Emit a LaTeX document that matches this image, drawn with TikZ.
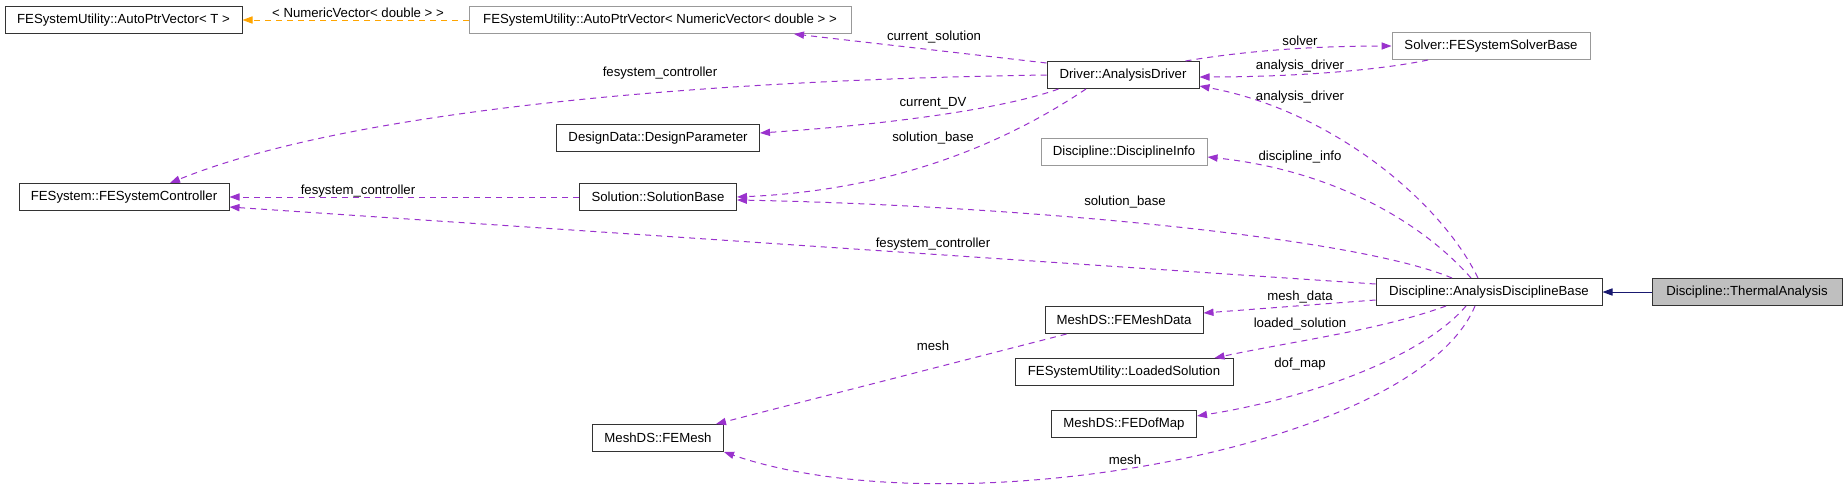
\documentclass[tikz,border=0pt]{standalone}
\usepackage{fontspec}
\setmainfont{Liberation Sans}
\usetikzlibrary{arrows.meta}
\definecolor{edgepurple}{HTML}{9A32CD}
\definecolor{edgeorange}{HTML}{FFA500}
\definecolor{inhnavy}{HTML}{191970}
\definecolor{nodegray}{HTML}{BFBFBF}
\begin{document}
\begin{tikzpicture}[x=0.5pt,y=-0.5pt,
  cls/.style={draw=black!80, line width=0.5pt, fill=white, rectangle, minimum height=13.5pt, inner sep=0pt, font=\fontsize{6.6}{8}\selectfont, text=black},
  ucls/.style={cls, draw=black!40},
  rel/.style={draw=edgepurple, line width=0.5pt, dash pattern=on 3pt off 2.5pt, -{Triangle[length=5pt,width=3.6pt]}},
  tmpl/.style={rel, draw=edgeorange},
  inh/.style={draw=inhnavy, line width=0.5pt, -{Triangle[length=5pt,width=3.6pt]}},
  lbl/.style={font=\fontsize{6.6}{8}\selectfont, inner sep=0pt, text=black}]
\useasboundingbox[fill=white] (0,0) rectangle (1843,494);

% nodes
\node[cls,  minimum width=118.5pt] (apt) at (123.5,20) {FESystemUtility::AutoPtrVector< T >};
\node[ucls, minimum width=191pt]   (apn) at (660,20) {FESystemUtility::AutoPtrVector< NumericVector< double > >};
\node[cls,  minimum width=76pt]    (drv) at (1123,75) {Driver::AnalysisDriver};
\node[ucls, minimum width=99pt]    (slv) at (1491,46) {Solver::FESystemSolverBase};
\node[cls,  minimum width=105pt]   (fsc) at (124,197) {FESystem::FESystemController};
\node[cls,  minimum width=101.5pt] (dp)  at (658,138) {DesignData::DesignParameter};
\node[cls,  minimum width=78.5pt]  (sb)  at (658,197) {Solution::SolutionBase};
\node[ucls, minimum width=83pt]    (di)  at (1124,152) {Discipline::DisciplineInfo};
\node[cls,  minimum width=113pt]   (adb) at (1489,292) {Discipline::AnalysisDisciplineBase};
\node[cls,  minimum width=95pt, fill=nodegray] (th) at (1747,292) {Discipline::ThermalAnalysis};
\node[cls,  minimum width=79pt]    (fmd) at (1124,320) {MeshDS::FEMeshData};
\node[cls,  minimum width=109pt]   (ls)  at (1124,372) {FESystemUtility::LoadedSolution};
\node[cls,  minimum width=72.5pt]  (fdm) at (1124,424) {MeshDS::FEDofMap};
\node[cls,  minimum width=65.5pt]  (fm)  at (658,438) {MeshDS::FEMesh};

% edges
\draw[tmpl] (apn.west) -- (apt.east);
\draw[rel] ([yshift=-1pt]drv.north west) -- ([xshift=67pt]apn.south);
\draw[rel] (drv.west) .. controls (700,80) and (350,110) .. ([xshift=23pt]fsc.north);
\draw[rel] ([xshift=6pt]drv.south west) .. controls (1000,110) and (880,125) .. ([yshift=2.5pt]dp.east);
\draw[rel] ([xshift=-18.5pt]drv.south) .. controls (1010,140) and (900,190) .. (sb.east);
\draw[rel] ([xshift=-7pt]drv.north east) .. controls (1250,50) and (1320,46) .. (slv.west);
\draw[rel] ([xshift=-31.5pt]slv.south) .. controls (1370,72) and (1280,77) .. ([yshift=-1pt]drv.east);
\draw[rel] ([xshift=-5.5pt]adb.north) .. controls (1440,200) and (1330,110) .. ([yshift=1.5pt]drv.south east);
\draw[rel] ([xshift=-9pt]adb.north) .. controls (1420,220) and (1330,170) .. ([yshift=-2.5pt]di.east);
\draw[rel] ([xshift=-18.5pt]adb.north) .. controls (1350,235) and (1000,205) .. ([yshift=-1.5pt]sb.east);
\draw[rel] (sb.west) -- (fsc.east);
\draw[rel] ([yshift=4pt]adb.west) -- ([yshift=-5pt]fsc.east);
\draw[rel] ([yshift=-4pt]adb.west) -- ([yshift=3.5pt]fmd.east);
\draw[rel] ([xshift=-21.5pt]adb.south) .. controls (1380,330) and (1300,340) .. ([xshift=-9.5pt]ls.north east);
\draw[rel] ([xshift=-11.5pt]adb.south) .. controls (1420,360) and (1300,400) .. ([yshift=4pt]fdm.east);
\draw[rel] ([xshift=-7pt]adb.south) .. controls (1415,450) and (950,530) .. (fm.south east);
\draw[rel] ([xshift=11pt]fmd.south west) -- ([xshift=-4pt]fm.north east);
\draw[inh] (th.west) -- (adb.east);

% labels
\node[lbl] (l1)  at (358,13)  {< NumericVector< double > >};
\node[lbl] (l2)  at (934,37)  {current\_solution};
\node[lbl] (l3)  at (660,73)  {fesystem\_controller};
\node[lbl] (l4)  at (933,103) {current\_DV};
\node[lbl] (l5)  at (933,138) {solution\_base};
\node[lbl] (l6)  at (1300,41) {solver};
\node[lbl] (l7)  at (1300,66) {analysis\_driver};
\node[lbl] (l8)  at (1300,97) {analysis\_driver};
\node[lbl] (l9)  at (1300,157) {discipline\_info};
\node[lbl] (l10) at (1125,202) {solution\_base};
\node[lbl] (l11) at (358,191) {fesystem\_controller};
\node[lbl] (l12) at (933,244) {fesystem\_controller};
\node[lbl] (l13) at (1300,297) {mesh\_data};
\node[lbl] (l14) at (1300,324) {loaded\_solution};
\node[lbl] (l15) at (1300,364) {dof\_map};
\node[lbl] (l16) at (933,346) {mesh};
\node[lbl] (l17) at (1125,460) {mesh};
\end{tikzpicture}
\end{document}
